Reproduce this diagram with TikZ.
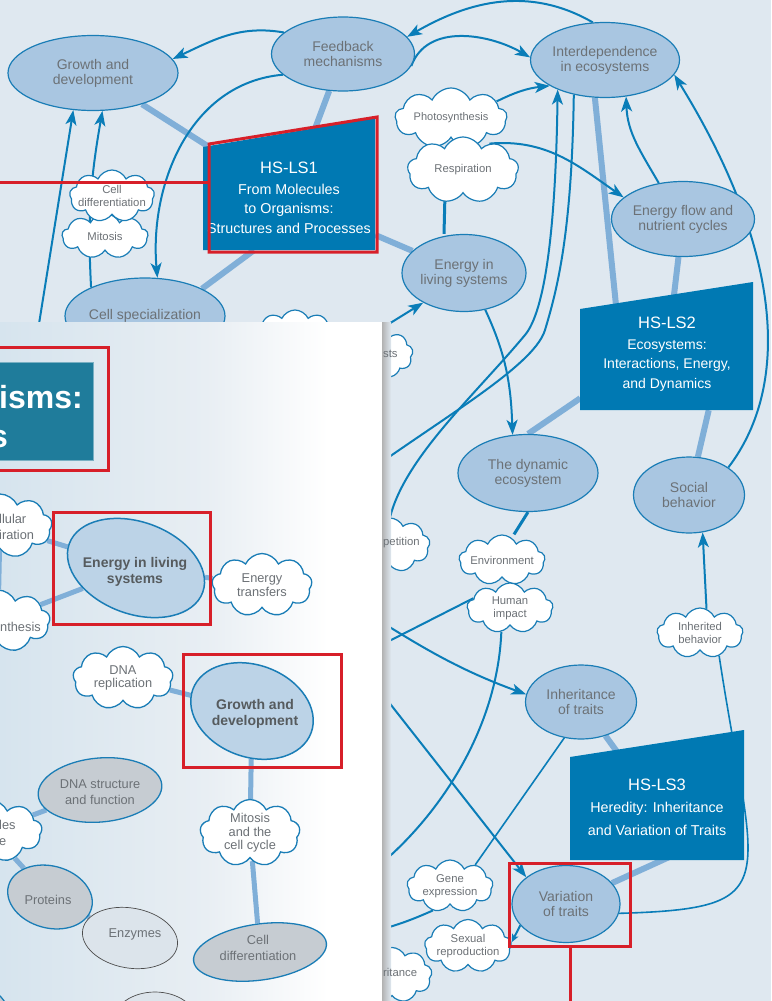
\documentclass[tikz,border=0pt]{standalone}
\usepackage{fontspec}
\setmainfont{Liberation Sans}
\usetikzlibrary{positioning,arrows.meta,calc,shapes.geometric,shapes.symbols}

\definecolor{mapbg}{HTML}{DFE8F0}
\definecolor{ellfill}{HTML}{A9C6E1}
\definecolor{pellfill}{HTML}{BCD3E7}
\definecolor{lsblue}{HTML}{1A7DB6}
\definecolor{arrblue}{HTML}{0A7DB8}
\definecolor{tieblue}{HTML}{80AFD8}
\definecolor{boxblue}{HTML}{0079B3}
\definecolor{tealbox}{HTML}{1F7C9B}
\definecolor{txtgray}{HTML}{6C7176}
\definecolor{grayfill}{HTML}{C6CCD2}
\definecolor{enzfill}{HTML}{DCE4EB}
\definecolor{redbox}{HTML}{D71F29}
\definecolor{pnlL}{HTML}{D6E4EE}
\definecolor{pnlM}{HTML}{E8EEF3}

\pgfdeclarelayer{back}
\pgfdeclarelayer{pnl}
\pgfdeclarelayer{pnlline}
\pgfdeclarelayer{pnlnode}
\pgfdeclarelayer{top}
\pgfsetlayers{back,main,pnl,pnlline,pnlnode,top}

\pgfdeclarehorizontalshading{pnlshade}{100bp}{color(0bp)=(pnlL); color(25bp)=(pnlL); color(52bp)=(pnlM); color(68bp)=(white); color(100bp)=(white)}

\tikzset{
  topic/.style={ellipse, draw=lsblue, line width=1.2pt, fill=ellfill, text=txtgray,
    inner sep=0pt, align=center, font=\fontsize{14}{15}\selectfont},
  idea/.style={cloud, cloud puffs=9, cloud puff arc=130, cloud ignores aspect,
    draw=lsblue, line width=1.2pt, fill=white, text=txtgray, inner sep=-4pt,
    align=center, font=\fontsize{11.3}{13}\selectfont},
  idea text/.style={text=txtgray, inner sep=0pt, font=\fontsize{11.3}{13}\selectfont},
  std/.style={text=white, align=center, inner sep=0pt, font=\fontsize{14.3}{19.5}\selectfont},
  tie/.style={draw=tieblue, line width=6pt},
  link/.style={draw=arrblue, line width=2pt},
  redmark/.style={draw=redbox, line width=3pt},
  pidea/.style={idea, line width=1.3pt, font=\fontsize{12.8}{13.5}\selectfont},
  ptxt/.style={text=txtgray, inner sep=0pt, align=center, font=\fontsize{12.8}{15.5}\selectfont},
  pbold/.style={text=txtgray!80!black, inner sep=0pt, align=center, font=\bfseries\fontsize{14}{16}\selectfont},
  pell/.style={ellipse, draw=lsblue, line width=1.5pt, fill=pellfill, inner sep=0pt},
  pgray/.style={ellipse, draw=lsblue, line width=1.3pt, fill=grayfill, inner sep=0pt},
  penzy/.style={ellipse, draw=black!70, line width=0.7pt, fill=enzfill, inner sep=0pt},
  ptie/.style={draw=tieblue, line width=5pt},
  bigtxt/.style={text=white, inner sep=0pt, font=\bfseries\fontsize{32}{38}\selectfont},
}

\begin{document}
\begin{tikzpicture}[>={Stealth[length=15pt,width=11pt,inset=4pt]}, x=1pt, y=1pt]
\useasboundingbox (0,0) rectangle (771,-1001);
\begin{pgfonlayer}{back}
\fill[mapbg] (0,0) rectangle (771,-1001);
\end{pgfonlayer}

% standards boxes
\fill[boxblue] (203,-147) -- (375,-118) -- (375,-250) -- (203,-250) -- cycle;
\fill[boxblue] (580,-309) -- (753,-282) -- (753,-410) -- (580,-410) -- cycle;
\fill[boxblue] (570,-757) -- (744,-730) -- (744,-860) -- (570,-860) -- cycle;
\node[std, minimum width=172pt, minimum height=104pt] (ls1) at (289,-198)
  {{\fontsize{16.5}{20}\selectfont HS-LS1}\\[1pt]From Molecules\\to Organisms:\\Structures and Processes};
\node[std, minimum width=173pt, minimum height=112pt, font=\fontsize{14}{19.5}\selectfont] (ls2) at (667,-354)
  {{\fontsize{16.5}{20}\selectfont HS-LS2}\\[1pt]Ecosystems:\\Interactions, Energy,\\and Dynamics};
\node[std, minimum width=174pt, minimum height=106pt, font=\fontsize{14.3}{22.3}\selectfont] (ls3) at (657,-807)
  {{\fontsize{16.5}{20}\selectfont HS-LS3}\\Heredity: Inheritance\\and Variation of Traits};

% topics
\node[topic, minimum width=170pt, minimum height=75pt] (gdev) at (93,-73) {Growth and\\development};
\node[topic, minimum width=143pt, minimum height=74pt] (feed) at (343,-54) {Feedback\\mechanisms};
\node[topic, minimum width=149pt, minimum height=75pt] (inter) at (605,-60) {Interdependence\\in ecosystems};
\node[topic, minimum width=160pt, minimum height=76pt] (cspec) at (145,-316) {Cell specialization};
\node[topic, minimum width=124pt, minimum height=77pt] (elive) at (464,-273) {Energy in\\living systems};
\node[topic, minimum width=143pt, minimum height=75pt] (eflow) at (683,-219) {Energy flow and\\nutrient cycles};
\node[topic, minimum width=140pt, minimum height=77pt] (dyn) at (528,-473) {The dynamic\\ecosystem};
\node[topic, minimum width=111pt, minimum height=76pt] (soc) at (689,-495) {Social\\behavior};
\node[topic, minimum width=111pt, minimum height=74pt] (inh) at (581,-702) {Inheritance\\of traits};
\node[topic, minimum width=108pt, minimum height=77pt] (var) at (566,-904) {Variation\\of traits};

% clouds
\node[idea, minimum width=86pt, minimum height=45pt] (mit) at (105,-236) {Mitosis};
\node[idea, minimum width=85pt, minimum height=52pt] (cdiff) at (112,-196) {Cell\\differentiation};
\node[idea, minimum width=112pt, minimum height=60pt, font=\fontsize{11}{13}\selectfont] (phot) at (451,-118) {Photosynthesis};
\node[idea, minimum width=111pt, minimum height=66pt] (resp) at (463,-170) {Respiration};
\node[idea, minimum width=80pt, minimum height=50pt] (hidc) at (295,-335) {};
\node[idea, minimum width=66pt, minimum height=48pt] (sts) at (380,-354) {};
\node[idea, minimum width=80pt, minimum height=54pt] (comp) at (390,-545) {};
\node[idea, minimum width=86pt, minimum height=50pt] (env) at (502,-560) {Environment};
\node[idea, minimum width=86pt, minimum height=50pt] (himp) at (510,-608) {Human\\impact};
\node[idea, minimum width=86pt, minimum height=50pt] (inhb) at (700,-633) {Inherited\\behavior};
\node[idea, minimum width=86pt, minimum height=52pt] (gene) at (450,-886) {Gene\\expression};
\node[idea, minimum width=87pt, minimum height=53pt] (sexr) at (468,-946) {Sexual\\reproduction};
\node[idea, minimum width=80pt, minimum height=55pt] (ritc) at (392,-975) {};

% free ends under the panel
\coordinate (gstart) at (30,-380);
\coordinate (hideA) at (330,-500);
\coordinate (hideB) at (340,-596);
\coordinate (hideC) at (340,-640);
\coordinate (hideD) at (340,-893);
\coordinate (hideE) at (340,-666);
\coordinate (hideF) at (340,-937);
\coordinate (hideG) at (372,-830);

\begin{pgfonlayer}{back}
% ties to the standards
\draw[tie] (gdev) -- (ls1);
\draw[tie] (feed) -- (ls1);
\draw[tie] ([xshift=-35pt]ls1.south) -- (cspec.north east);
\draw[tie] (ls1) -- (elive);
\draw[tie] (inter.255) -- ([xshift=38pt,yshift=-30pt]ls2.north west);
\draw[tie] (eflow) -- (ls2);
\draw[tie] (dyn.north) -- ([yshift=12pt]ls2.south west);
\draw[tie] ([xshift=-45pt]ls2.south east) -- (soc);
\draw[tie] (inh) -- (ls3);
\draw[tie] ([xshift=-60pt,yshift=10pt]ls3.south east) -- (var);
\draw[link, line width=3pt] ([xshift=-18pt]resp.south) -- ([xshift=-20pt]elive.north);
\draw[link, line width=3pt] (dyn.south) -- ([xshift=12pt]env.north);
% arrows
\draw[link,->] (feed.160) to[out=170,in=25] (gdev.10);
\draw[link,->] (inter.108) to[out=150,in=30] (feed.15);
\draw[link,->] (feed.350) to[out=70,in=150] (inter.178);
\draw[link,->] (feed.199) to[out=185,in=95] (cspec.72);
\draw[link,->] (gstart) -- (gdev.242);
\draw[link,->] (cspec.152) to[out=93,in=260] (gdev.284);
\draw[link,->] (phot.20) to[bend left=10] (inter.205);
\draw[link,->] (comp.north) .. controls +(15,60) and +(-50,-60) .. (525,-335)
  .. controls +(20,24) and +(-2,-140) .. (inter.212);
\draw[link] (inter.228) .. controls +(-2,-140) and +(12,40) .. (545,-330)
  .. controls +(-12,-40) and +(90,70) .. (hideA);
\draw[link,->] (resp.45) to[out=5,in=145] (eflow.160);
\draw[link,->] (eflow.124) to[out=120,in=-88] (inter.300);
\draw[link,->] (soc.35) .. controls +(65,85) and +(105,-170) .. (inter.348);
\draw[link,->] (elive.300) to[out=-65,in=92] (dyn.112);
\draw[link,->] (sts.north) -- (elive.216);
\draw[link,->] (inhb.75) -- (soc.290);
\draw[link, line width=1.6pt] (var.350) .. controls +(170,5) and +(35,-230) .. (inhb.310);
\draw[link,->] (hideB) to[out=-32,in=160] (inh.172);
\draw[link,->] (hideC) -- (var.146);
\draw[link, line width=1.6pt] (inh.245) -- (gene.40);
\draw[link] (himp.250) .. controls +(-5,-120) and +(70,40) .. (hideD);
\draw[link] (himp.165) -- (hideE);
\draw[link] (gene.235) to[bend left=8] (hideF);
\draw[link, -{Stealth[length=8pt,width=7pt,inset=2pt]}] (var.205) -- (sexr.5);
\draw[link] (comp.268) to[out=-90,in=80] (hideG);
\end{pgfonlayer}

% the overlaid panel
\begin{pgfonlayer}{pnl}
\shade[shading=pnlshade] (0,-322) rectangle (382,-1001);
\shade[left color=black!30, right color=mapbg] (382,-322) rectangle (391,-1001);
\end{pgfonlayer}

\begin{pgfonlayer}{pnlnode}
% words of the clouds cut by the panel edge
\node[idea text, anchor=west] (ststxt) at (383,-354) {sts};
\node[idea text, anchor=west] (comptxt) at (383,-543) {petition};
\node[idea text, anchor=west] (ritctxt) at (383,-972) {ritance};
\node[fill=tealbox, draw=tealbox!60!white, line width=0.6pt, minimum width=100pt,
  minimum height=98pt, inner sep=0pt] (pls1) at (43,-411) {};
\node[bigtxt, anchor=base west] (pls1a) at (-1,-408) {isms:};
\node[bigtxt, anchor=base east] (pls1b) at (8,-447) {s};
\node[pidea, minimum width=104pt, minimum height=64pt] (pcres) at (0,-526) {};
\node[ptxt, anchor=west, align=left] (pcrest) at (-1,-527) {llular\\iration};
\node[pidea, minimum width=104pt, minimum height=62pt] (pphot) at (-2,-621) {};
\node[ptxt, anchor=west] (pphott) at (0,-627) {nthesis};
\node[pidea, minimum width=100pt, minimum height=63pt] (petr) at (262,-585) {Energy\\transfers};
\node[pell, rotate=-20, minimum width=142pt, minimum height=92pt] (pelive) at (136,-568) {};
\node[pbold] (pelivet) at (135,-572) {Energy in living\\systems};
\node[pidea, minimum width=100pt, minimum height=63pt] (pdnar) at (123,-678) {DNA\\replication};
\node[pell, rotate=-20, minimum width=126pt, minimum height=92pt] (pgdev) at (252,-711) {};
\node[pbold] (pgdevt) at (255,-714) {Growth and\\development};
\node[pgray, rotate=5, minimum width=124pt, minimum height=64pt] (pdna) at (100,-790) {};
\node[ptxt] (pdnat) at (100,-792) {DNA structure\\and function};
\node[pidea, minimum width=104pt, minimum height=62pt] (pmol) at (-10,-831) {};
\node[ptxt, anchor=west, align=left] (pmolt) at (-1,-833) {les\\e};
\node[pgray, rotate=-15, minimum width=86pt, minimum height=62pt] (pprot) at (50,-897) {};
\node[ptxt] (pprott) at (48,-900) {Proteins};
\node[penzy, rotate=-10, minimum width=96pt, minimum height=60pt] (penz) at (130,-938) {};
\node[ptxt] (penzt) at (135,-934) {Enzymes};
\node[pidea, minimum width=100pt, minimum height=67pt] (pmit) at (250,-833) {Mitosis\\and the\\cell cycle};
\node[pgray, rotate=8, minimum width=134pt, minimum height=56pt] (pcdiff) at (260,-952) {};
\node[ptxt] (pcdifft) at (258,-948) {Cell\\differentiation};
\node[penzy, minimum width=84pt, minimum height=60pt] (pskel) at (155,-1022) {};
\node[pgray, minimum width=60pt, minimum height=80pt] (pcorner) at (-18,-1028) {};
\end{pgfonlayer}

\begin{pgfonlayer}{pnlline}
\draw[ptie] (pcres) -- (pphot);
\draw[ptie] (pcres) -- (pelive);
\draw[ptie] (pphot) -- (pelive);
\draw[ptie] (pelive) -- (petr);
\draw[ptie] (pdnar) -- (pgdev);
\draw[ptie] (pgdev) -- (pmit);
\draw[ptie] (pmit) -- (pcdiff);
\draw[ptie] (pdna) -- (pmol);
\draw[ptie] (pmol) -- (pprot);
\draw[ptie] (pprot) -- (penz);
\end{pgfonlayer}

% red highlight marks
\coordinate (redA) at (-2,-182);
\coordinate (redB) at (570,-1004);
\begin{pgfonlayer}{top}
\draw[redmark] (209,-144) -- (377,-117) -- (377,-252) -- (209,-252) -- cycle;
\draw[redmark] (redA) -- (209,-182);
\draw[redmark] (-3,-347) rectangle (108,-470);
\draw[redmark] (53,-512) rectangle (210,-624);
\draw[redmark] (183,-654) rectangle (341,-767);
\draw[redmark] (509,-863) rectangle (630,-946);
\draw[redmark] (570,-946) -- (redB);
\end{pgfonlayer}
\end{tikzpicture}
\end{document}
